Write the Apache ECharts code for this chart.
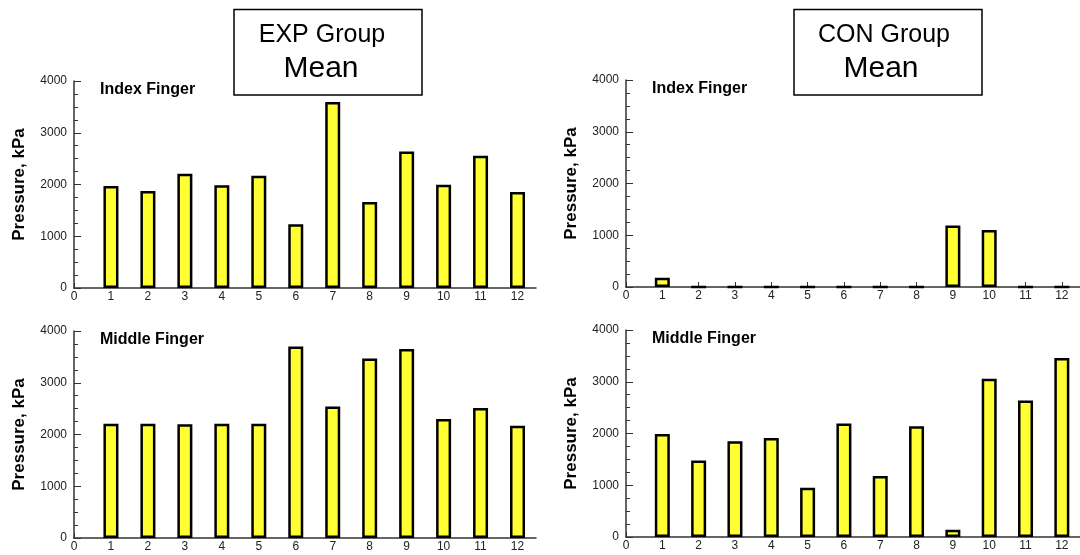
<!DOCTYPE html>
<html>
<head>
<meta charset="utf-8">
<script src="https://cdn.jsdelivr.net/npm/echarts@6/dist/echarts.min.js"></script>
<style>
  html, body { margin: 0; padding: 0; background: #fff; }
  #main { width: 1080px; height: 555px; }
</style>
</head>
<body>
<div id="main"></div>
<script>
var trials = [1, 2, 3, 4, 5, 6, 7, 8, 9, 10, 11, 12];
var xTicks = [0, 1, 2, 3, 4, 5, 6, 7, 8, 9, 10, 11, 12];
var expIndex = [1970, 1875, 2210, 1985, 2170, 1230, 3595, 1660, 2640, 1995, 2555, 1855];
var expMiddle = [2210, 2210, 2200, 2210, 2210, 3700, 2540, 3470, 3650, 2300, 2510, 2170];
var conIndex = [180, 0, 0, 0, 0, 0, 0, 0, 1190, 1100, 0, 0];
var conMiddle = [1990, 1480, 1850, 1915, 950, 2195, 1180, 2140, 140, 3060, 2640, 3460];

var font = 'Liberation Sans, Arial, sans-serif';

var chart = echarts.init(document.getElementById('main'));

// one panel = grid + x + y + bar series
var panels = [
    {left: 74, top: 81, data: expIndex, label: 'Index Finger'},
    {left: 626, top: 80, data: conIndex, label: 'Index Finger'},
    {left: 74, top: 331, data: expMiddle, label: 'Middle Finger'},
    {left: 626, top: 330, data: conMiddle, label: 'Middle Finger'}
];

var grids = [], xAxes = [], yAxes = [], series = [], texts = [];
panels.forEach(function (p, i) {
    grids.push({left: p.left, top: p.top, width: 462, height: 207});
    xAxes.push({
        type: 'value', gridIndex: i, min: 0, max: 12.5, interval: 1,
        axisLine: {lineStyle: {color: '#333', width: 1.5}},
        axisTick: {inside: true, length: 5, customValues: xTicks, lineStyle: {color: '#333'}},
        axisLabel: {customValues: xTicks, margin: 3, fontSize: 12, color: '#222', fontFamily: font},
        splitLine: {show: false}
    });
    yAxes.push({
        type: 'value', gridIndex: i, min: 0, max: 4000, interval: 1000,
        name: 'Pressure, kPa', nameLocation: 'middle', nameGap: 46,
        nameTextStyle: {fontSize: 17, fontWeight: 'bold', color: '#000', fontFamily: font},
        axisLine: {show: true, lineStyle: {color: '#333', width: 1.5}},
        axisTick: {inside: true, length: 7, lineStyle: {color: '#333'}},
        minorTick: {show: true, splitNumber: 4, length: 4, lineStyle: {color: '#333'}},
        axisLabel: {margin: 7, fontSize: 12, color: '#222', fontFamily: font,
                    formatter: function (v) { return String(v); }},
        splitLine: {show: false}
    });
    series.push({
        type: 'bar', xAxisIndex: i, yAxisIndex: i, barWidth: 15,
        itemStyle: {color: '#ffff33', borderColor: '#000', borderWidth: 2.5},
        data: trials.map(function (t, k) { return [t, p.data[k]]; })
    });
    texts.push({
        type: 'text', left: p.left + 26, top: p.top + 1,
        style: {text: p.label, fontSize: 16, fontWeight: 'bold', fill: '#000', fontFamily: font}
    });
});

function groupBox(x, label, cx1, cx2) {
    return [
        {type: 'rect', shape: {x: x, y: 9.5, width: 188, height: 85.5},
         style: {fill: '#fff', stroke: '#000', lineWidth: 1.5}},
        {type: 'text', x: cx1, y: 35,
         style: {text: label, fontSize: 25, fill: '#000', fontFamily: font, align: 'center', verticalAlign: 'middle'}},
        {type: 'text', x: cx2, y: 69,
         style: {text: 'Mean', fontSize: 30, fill: '#000', fontFamily: font, align: 'center', verticalAlign: 'middle'}}
    ];
}

var option = {
    animation: false,
    grid: grids,
    xAxis: xAxes,
    yAxis: yAxes,
    series: series,
    graphic: texts.concat(groupBox(234, 'EXP Group', 322, 321), groupBox(794, 'CON Group', 884, 881))
};

chart.setOption(option);
</script>
</body>
</html>
